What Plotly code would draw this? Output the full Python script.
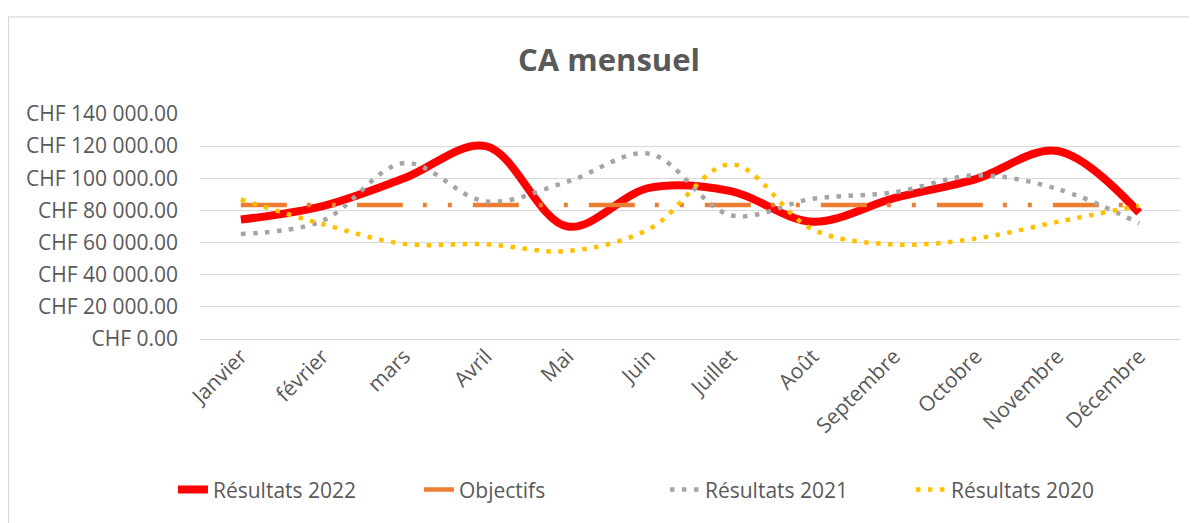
"""Monthly revenue chart (CA mensuel) - 2022 vs objectives vs 2021 / 2020."""
import plotly.graph_objects as go

MOIS = ["Janvier", "février", "mars", "Avril", "Mai", "Juin", "Juillet",
        "Août", "Septembre", "Octobre", "Novembre", "Décembre"]

RESULTATS_2022 = [74300, 82700, 100000, 120000, 70000, 94000, 92000,
                  73000, 87600, 99500, 117000, 78500]
OBJECTIFS = [83333.33] * 12
RESULTATS_2021 = [65300, 73500, 109500, 85600, 97900, 115300, 77000,
                  87200, 91300, 101800, 93400, 72000]
RESULTATS_2020 = [86800, 71500, 59200, 59000, 54700, 68400, 108700,
                  68200, 58800, 62500, 72900, 83000]

TXT = "#595959"
GRID = "#D9D9D9"
FONT = "Open Sans, sans-serif"

fig = go.Figure()

fig.add_trace(go.Scatter(
    x=MOIS, y=RESULTATS_2022, name="Résultats 2022", mode="lines",
    line=dict(color="#FF0000", width=8, shape="spline", smoothing=1.0),
))
fig.add_trace(go.Scatter(
    x=MOIS, y=OBJECTIFS, name="Objectifs", mode="lines",
    line=dict(color="#ED7D31", width=4.5,
              dash="46px,20px,4px,21px,4px,21px"),
))
fig.add_trace(go.Scatter(
    x=MOIS, y=RESULTATS_2021, name="Résultats 2021", mode="lines",
    line=dict(color="#A5A5A5", width=4.5, shape="spline", smoothing=1.0,
              dash="4.5px,7.5px"),
))
fig.add_trace(go.Scatter(
    x=MOIS, y=RESULTATS_2020, name="Résultats 2020", mode="lines",
    line=dict(color="#FFC000", width=4.5, shape="spline", smoothing=1.0,
              dash="4.5px,7.5px"),
))

# light chart frame (left + top edges visible in the reference)
fig.add_shape(type="path", xref="paper", yref="paper",
              path="M -0.1954,-0.95 L -0.1954,1.432 L 1.1,1.432",
              line=dict(color=GRID, width=1.3), layer="below")

# the page adds an 8px body margin, so the figure is 8px smaller
fig.update_layout(
    width=1189,
    height=515,
    paper_bgcolor="white",
    plot_bgcolor="white",
    separators=". ",
    font=dict(family=FONT, color=TXT, size=21),
    margin=dict(l=192, r=17, t=106, b=180),
    title=dict(text="<b>CA mensuel</b>", x=0.5055, xanchor="center",
               y=0.899, yanchor="middle",
               font=dict(family=FONT, size=31, color=TXT)),
    xaxis=dict(
        type="category",
        categoryorder="array",
        categoryarray=MOIS,
        range=[-0.5, 11.5],
        tickangle=-45,
        showgrid=False,
        showline=False,
        ticks="",
        tickfont=dict(size=21, color=TXT),
    ),
    yaxis=dict(
        range=[0, 140000],
        dtick=20000,
        tickprefix="CHF ",
        tickformat=",.2f",
        showgrid=True,
        gridcolor=GRID,
        gridwidth=1.3,
        zeroline=True,
        zerolinecolor=GRID,
        zerolinewidth=1.3,
        showline=False,
        ticks="",
        ticklabelstandoff=21,
        tickfont=dict(size=21, color=TXT),
    ),
    legend=dict(
        orientation="h",
        x=-0.0276, xanchor="left",
        y=-0.67, yanchor="middle",
        font=dict(size=21, color=TXT),
        bgcolor="rgba(0,0,0,0)",
        entrywidth=201,
        entrywidthmode="pixels",
    ),
    showlegend=True,
)

fig.write_html("out.html")
